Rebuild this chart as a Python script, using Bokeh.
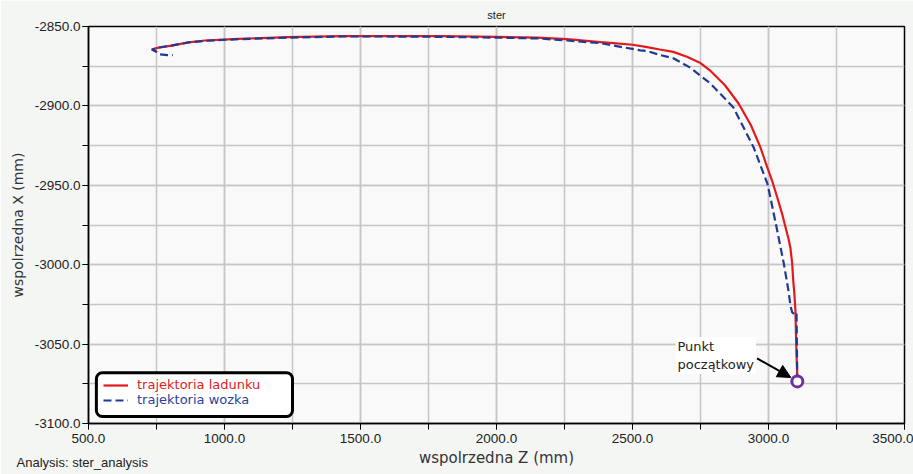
from bokeh.plotting import figure
from bokeh.models import (Range1d, SingleIntervalTicker, NumeralTickFormatter, Legend, LegendItem,
                          BoxAnnotation, Label, Arrow, NormalHead, Title)
from bokeh.embed import file_html
from bokeh.resources import INLINE

# trajektoria ladunku (red) - Z and X coordinates (mm), starting at the start point
z_red = [3106, 3105, 3103, 3101.5, 3099, 3095, 3091, 3087, 3081, 3074, 3065, 3050, 3032, 3013, 2990,
         2970, 2935, 2890, 2840, 2787, 2750, 2700, 2650, 2600, 2554, 2500, 2430, 2382, 2260, 2150,
         2000, 1800, 1600, 1430, 1235, 1051, 929, 868, 805, 757, 732, 752]
x_red = [-3073.5, -3066, -3057, -3047, -3029, -3018, -3010, -2999, -2990, -2984, -2978, -2968, -2957.5,
         -2947, -2936, -2926, -2912, -2898.5, -2887, -2878, -2873, -2869, -2866, -2864.5, -2863,
         -2861.5, -2860.5, -2859.8, -2858, -2857, -2856.5, -2856, -2856, -2856, -2856.7, -2857.8,
         -2858.8, -2860, -2862, -2863.3, -2864.5, -2866]

# trajektoria wozka (blue dashed)
z_blue = [3106, 3105, 3104, 3103, 3095, 3087, 3081, 3073, 3056, 3032, 3007, 2996, 2945, 2871, 2787,
          2713, 2650, 2603, 2554, 2529, 2430, 2382, 2260, 2150, 2000, 1800, 1600, 1430, 1235, 1051,
          929, 868, 805, 757, 735, 750, 763, 790, 810]
x_blue = [-3073.5, -3060, -3045, -3030, -3031, -3030, -3026, -3016, -2999, -2978.5, -2957.7, -2949,
          -2926, -2901, -2886, -2876, -2870, -2868, -2865.5, -2865, -2862, -2860.5, -2858.8, -2857.5,
          -2857, -2856.5, -2856.3, -2856.3, -2857, -2858, -2859, -2860, -2862, -2863.3, -2864.5,
          -2866, -2867.5, -2868, -2868]

x_major = 500
y_major = 50
x_lim = (500, 3500)
y_lim = (-3100, -2850)

BG = "#f4f6f4"
GRID = "#c6c6c6"

p = figure(width=913, height=474, output_backend="svg", toolbar_location=None,
           x_range=Range1d(*x_lim), y_range=Range1d(*y_lim), title="ster",
           min_border_left=88, min_border_right=9, min_border_top=26, min_border_bottom=51)
p.background_fill_color = "#f8f9f8"
p.border_fill_color = BG
p.outline_line_color = "black"
p.outline_line_width = 1.5

p.title.align = "center"
p.title.text_font = "Liberation Sans"
p.title.text_font_size = "11px"
p.title.text_font_style = "normal"
p.title.text_color = "#222222"
p.title.standoff = 11
p.title.offset = 0

for ax, interval in ((p.xaxis[0], x_major), (p.yaxis[0], y_major)):
    ax.ticker = SingleIntervalTicker(interval=interval, num_minor_ticks=2)
    ax.formatter = NumeralTickFormatter(format="0.0")
    ax.major_tick_in = 0
    ax.major_tick_out = 6
    ax.minor_tick_in = 0
    ax.minor_tick_out = 6
    ax.axis_line_color = "black"
    ax.axis_line_width = 1.5
    ax.major_tick_line_color = "black"
    ax.minor_tick_line_color = "black"
    ax.major_label_text_font = "Liberation Sans"
    ax.major_label_text_font_size = "13.5px"
    ax.major_label_text_color = "#222222"
    ax.axis_label_text_font = "DejaVu Sans"
    ax.axis_label_text_font_style = "normal"
    ax.axis_label_text_color = "#333333"

p.xaxis.axis_label = "wspolrzedna Z (mm)"
p.yaxis.axis_label = "wspolrzedna X (mm)"
p.xaxis.axis_label_text_font_size = "15px"
p.yaxis.axis_label_text_font_size = "14px"
p.xaxis.major_label_standoff = 4
p.xaxis.axis_label_standoff = 3
p.yaxis.major_label_standoff = 2
p.yaxis.axis_label_standoff = 6

p.xgrid.ticker = SingleIntervalTicker(interval=x_major, num_minor_ticks=2)
p.ygrid.ticker = SingleIntervalTicker(interval=y_major, num_minor_ticks=2)
for g in (p.xgrid[0], p.ygrid[0]):
    g.grid_line_color = GRID
    g.grid_line_width = 1.5
    g.minor_grid_line_color = GRID
    g.minor_grid_line_width = 1.5

r_red = p.line(z_red, x_red, line_color="#e31a1c", line_width=2.2)
r_blue = p.line(z_blue, x_blue, line_color="#1f3a93", line_width=2.2, line_dash="8 4")

p.scatter([z_red[0]], [x_red[0]], marker="circle", size=11, fill_color="white",
          line_color="#7030a0", line_width=3)

# legend frame
box = BoxAnnotation(left=529, right=1250, top=-3068, bottom=-3095.6, fill_color="white", fill_alpha=1,
                    line_color="black", line_width=3, line_alpha=1, border_radius=6)
p.add_layout(box)

def mk_legend(label, rend, color, loc):
    lg = Legend(items=[LegendItem(label=label, renderers=[rend])], location=loc,
                background_fill_alpha=0, border_line_alpha=0, padding=0, margin=0, spacing=0,
                glyph_width=25, glyph_height=14, label_height=14, label_standoff=9,
                label_text_font="DejaVu Sans", label_text_font_size="13px", label_text_color=color)
    return lg

p.add_layout(mk_legend("trajektoria ladunku", r_red, "#e31a1c", (15, 31)))
p.add_layout(mk_legend("trajektoria wozka", r_blue, "#2a3f9e", (15, 16)))

# annotation for the start point
p.add_layout(Arrow(x_start=2958, y_start=-3059, x_end=3082, y_end=-3071,
                   line_color="black", line_width=2,
                   end=NormalHead(size=13, fill_color="black", line_color="black")))
p.add_layout(Label(x=2658, y=-3045.5, text="Punkt\npoczątkowy", text_align="left", text_baseline="top",
                   text_font="DejaVu Sans", text_font_size="13px", text_color="#222222",
                   background_fill_color="white", background_fill_alpha=1, padding=2))

# footer text: a title in the bottom panel, pulled up onto the axis-label row
footer = Title(text="Analysis:  ster_analysis", align="left", vertical_align="top",
               standoff=-30, offset=16 - 88, text_font="Liberation Sans", text_font_size="13px",
               text_font_style="normal", text_color="#222222")
p.add_layout(footer, "below")

open("out.html", "w").write(file_html(p, INLINE))
